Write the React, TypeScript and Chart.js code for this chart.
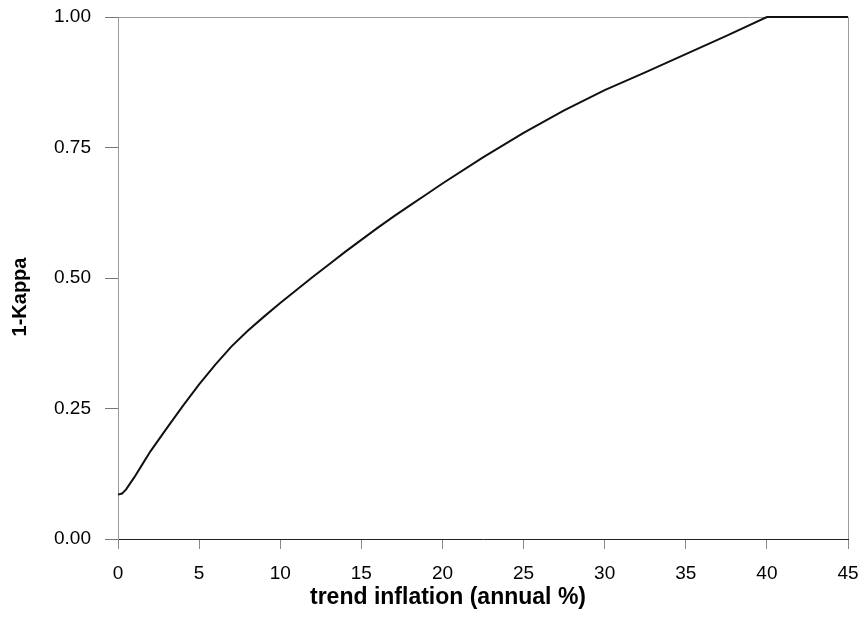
import React, { useEffect, useRef } from "react";
import { Chart, registerables } from "chart.js";

Chart.register(...registerables);

const inflation = [0, 0.25, 0.5, 1, 1.5, 2, 3, 4, 5, 6, 7, 8, 9, 10, 11, 12, 13, 14, 15, 16, 17, 18, 19, 20, 22.5, 25, 27.5, 30, 32.5, 35, 37.5, 40, 45];
const oneMinusKappa = [0.085, 0.087, 0.095, 0.118, 0.143, 0.168, 0.212, 0.255, 0.296, 0.334, 0.369, 0.399, 0.426, 0.452, 0.477, 0.502, 0.526, 0.55, 0.573, 0.596, 0.618, 0.639, 0.66, 0.681, 0.731, 0.778, 0.821, 0.86, 0.894, 0.929, 0.964, 1.0, 1.0];
const xTicks = [0, 5, 10, 15, 20, 25, 30, 35, 40, 45];
const yTicks = [0, 0.25, 0.5, 0.75, 1];
const xTitle = "trend inflation (annual %)";
const yTitle = "1-Kappa";

const FONT = '"Liberation Sans", Arial, Helvetica, sans-serif';

const framePlugin = {
  id: "frameAndTitles",
  beforeDatasetsDraw(chart: any) {
    const { ctx, chartArea } = chart;
    const { left, right, top, bottom } = chartArea;
    ctx.save();
    ctx.strokeStyle = "#9a9a9a";
    ctx.lineWidth = 1;
    ctx.beginPath();
    ctx.moveTo(left, top + 0.5);
    ctx.lineTo(right, top + 0.5);
    ctx.moveTo(right + 0.5, top);
    ctx.lineTo(right + 0.5, bottom);
    ctx.stroke();
    ctx.restore();
  },
  afterDraw(chart: any) {
    const { ctx, chartArea } = chart;
    const { left, right, top, bottom } = chartArea;
    ctx.save();
    ctx.fillStyle = "#000";
    ctx.font = `bold 23px ${FONT}`;
    ctx.textAlign = "center";
    ctx.textBaseline = "middle";
    ctx.fillText(xTitle, (left + right) / 2 - 35, bottom + 59);

    ctx.font = `bold 20px ${FONT}`;
    ctx.translate(20, (top + bottom) / 2 + 19);
    ctx.rotate(-Math.PI / 2);
    ctx.fillText(yTitle, 0, 0);
    ctx.restore();
  },
};

export default function App() {
  const ref = useRef<HTMLCanvasElement | null>(null);

  useEffect(() => {
    document.body.style.margin = "0";
    const canvas = ref.current;
    if (!canvas) return;
    const chart = new Chart(canvas, {
      type: "line",
      data: {
        datasets: [
          {
            data: inflation.map((x, i) => ({ x, y: oneMinusKappa[i] })),
            borderColor: "#111",
            borderWidth: 2,
            pointRadius: 0,
            fill: false,
            tension: 0,
            clip: 4,
          },
        ],
      },
      options: {
        animation: false,
        responsive: false,
        maintainAspectRatio: false,
        layout: { padding: { top: 17, right: 15, left: 0, bottom: 0 } },
        plugins: {
          legend: { display: false },
          tooltip: { enabled: false },
          title: { display: false },
        },
        scales: {
          x: {
            type: "linear",
            min: 0,
            max: 45,
            afterFit: (s: any) => {
              s.height = 81;
              s.paddingLeft = 0;
              s.paddingRight = 0;
            },
            afterBuildTicks: (s: any) => {
              s.ticks = xTicks.map((v) => ({ value: v }));
            },
            ticks: {
              color: "#000",
              font: { family: FONT, size: 19 },
              padding: 13,
              maxRotation: 0,
              callback: (v: any) => String(v),
            },
            grid: {
              display: true,
              drawOnChartArea: false,
              drawTicks: true,
              tickLength: 10,
              color: "#888",
            },
            border: { display: true, color: "#222", width: 1 },
          },
          y: {
            type: "linear",
            min: 0,
            max: 1,
            afterFit: (s: any) => {
              s.width = 118;
              s.paddingTop = 0;
              s.paddingBottom = 0;
            },
            afterBuildTicks: (s: any) => {
              s.ticks = yTicks.map((v) => ({ value: v }));
            },
            ticks: {
              color: "#000",
              font: { family: FONT, size: 19 },
              padding: 14,
              callback: (v: any) => Number(v).toFixed(2),
            },
            grid: {
              display: true,
              drawOnChartArea: false,
              drawTicks: true,
              tickLength: 13,
              color: "#777",
            },
            border: { display: true, color: "#999", width: 1 },
          },
        },
      },
      plugins: [framePlugin],
    });
    return () => chart.destroy();
  }, []);

  return (
    <div style={{ width: 863, height: 620, background: "#fff" }}>
      <canvas ref={ref} width={863} height={620} style={{ display: "block" }} />
    </div>
  );
}
